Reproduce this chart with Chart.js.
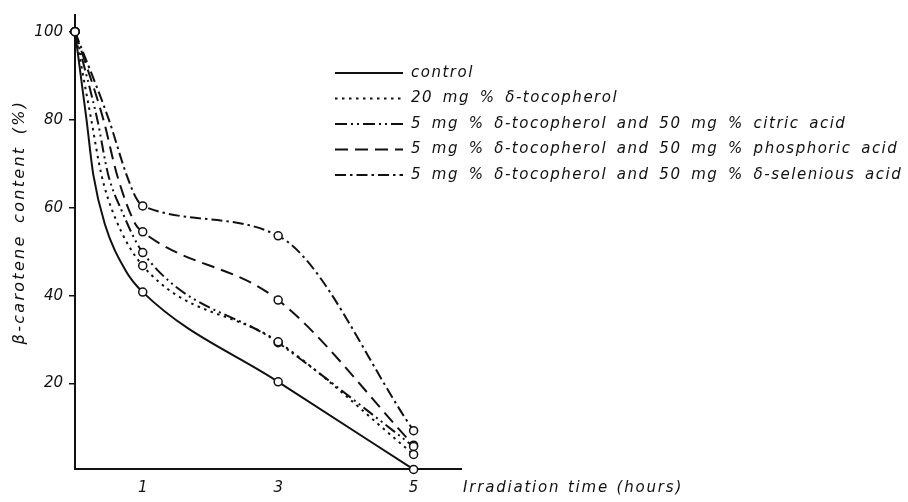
<!DOCTYPE html>
<html>
<head>
<meta charset="utf-8">
<script src="https://cdn.jsdelivr.net/npm/chart.js@4.4.1/dist/chart.umd.min.js"></script>
<style>
  html, body { margin: 0; padding: 0; background: #fff; }
  #wrap { width: 908px; height: 502px; }
</style>
</head>
<body>
<div id="wrap"><canvas id="chart"></canvas></div>
<script>
// irradiation times (hours) where the samples were measured
const hours = [0, 1, 3, 5];

// β-carotene content (%) at those times
const control = [100, 40.8, 20.4, 0.5];
const toco20 = [100, 46.8, 29.5, 3.9];
const tocoCitric = [100, 49.8, 29.3, 5.7];
const tocoPhosphoric = [100, 54.5, 39.0, 6.0];
const tocoSelenious = [100, 60.4, 53.6, 9.3];

// points read off the drawn curves between 0 and 1 h (no circle drawn there)
const controlCurve = [[0.17, 80], [0.27, 67.5], [0.44, 56.3], [0.74, 45.9]];
const toco20Curve = [[0.24, 80], [0.39, 67.5], [0.59, 57.8]];
const citricCurve = [[0.33, 80], [0.49, 67.5], [0.69, 59.3]];
const phosphoricCurve = [[0.42, 80], [0.62, 67.5], [0.89, 56.3]];
const seleniousCurve = [[0.5, 80], [0.76, 67.5], [0.91, 62]];

const seriesLabels = [
  'control',
  '20 mg % δ-tocopherol',
  '5 mg % δ-tocopherol and 50 mg % citric acid',
  '5 mg % δ-tocopherol and 50 mg % phosphoric acid',
  '5 mg % δ-tocopherol and 50 mg % δ-selenious acid'
];
const xTicks = [1, 3, 5];
const yTicks = [20, 40, 60, 80, 100];
const xTitle = 'Irradiation time (hours)';
const yTitle = 'β-carotene content (%)';

const ink = '#111';
const font = { family: '"DejaVu Sans", sans-serif', size: 15, style: 'italic' };

function series(values, curve) {
  const pts = hours.map((h, i) => ({ x: h, y: values[i], mark: true }));
  curve.forEach(([x, y]) => pts.push({ x: x, y: y, mark: false }));
  return pts.sort((a, b) => a.x - b.x);
}

function dataset(i, values, curve, dash) {
  return {
    label: seriesLabels[i],
    data: series(values, curve),
    borderColor: ink,
    borderWidth: 2,
    borderDash: dash,
    cubicInterpolationMode: 'monotone',
    pointRadius: c => (c.raw && c.raw.mark ? 4 : 0),
    pointBackgroundColor: '#fff',
    pointBorderColor: ink,
    pointBorderWidth: 1.5,
    clip: false
  };
}

// legend + axis titles, drawn like the figure (legend inside the plot, x title right of the axis)
const annotate = {
  id: 'annotate',
  afterDraw(chart) {
    const ctx = chart.ctx;
    ctx.save();
    ctx.fillStyle = ink;
    ctx.strokeStyle = ink;
    ctx.font = 'italic 15px "DejaVu Sans"';
    ctx.letterSpacing = '1.5px';
    ctx.wordSpacing = '3.5px';
    ctx.textBaseline = 'middle';
    chart.data.datasets.forEach((ds, i) => {
      const y = 73 + i * 25.5;
      ctx.setLineDash(ds.borderDash);
      ctx.lineWidth = 2;
      ctx.beginPath();
      ctx.moveTo(335, y);
      ctx.lineTo(403, y);
      ctx.stroke();
      ctx.setLineDash([]);
      ctx.fillText(ds.label, 411, y);
    });
    ctx.letterSpacing = '1.8px';
    ctx.wordSpacing = '1px';
    ctx.fillText(xTitle, chart.chartArea.right + 2, 488);
    ctx.font = 'italic 16px "DejaVu Sans"';
    ctx.letterSpacing = '2.3px';
    ctx.wordSpacing = '4px';
    ctx.translate(20, 222);
    ctx.rotate(-Math.PI / 2);
    ctx.textAlign = 'center';
    ctx.fillText(yTitle, 0, 0);
    ctx.restore();
  }
};

const ctx = document.getElementById('chart').getContext('2d');
const chart = new Chart(ctx, {
  type: 'line',
  data: {
    datasets: [
      dataset(0, control, controlCurve, []),
      dataset(1, toco20, toco20Curve, [2.5, 4.5]),
      dataset(2, tocoCitric, citricCurve, [12, 4, 2, 4, 2, 4]),
      dataset(3, tocoPhosphoric, phosphoricCurve, [13, 7]),
      dataset(4, tocoSelenious, seleniousCurve, [11, 4, 2.5, 4])
    ]
  },
  options: {
    responsive: true,
    maintainAspectRatio: false,
    animation: false,
    layout: { padding: { left: 0, top: 8, right: 447, bottom: 0 } },
    plugins: {
      legend: { display: false },
      tooltip: { enabled: false }
    },
    scales: {
      x: {
        type: 'linear',
        min: 0,
        max: 5.7,
        afterBuildTicks: s => { s.ticks = xTicks.map(v => ({ value: v })); },
        afterFit: s => { s.height = 33.5; },
        grid: { display: false, drawTicks: false },
        border: { display: true, color: ink, width: 2 },
        ticks: { color: ink, font: font, padding: 11, maxRotation: 0 }
      },
      y: {
        min: 0.7,
        max: 103.8,
        afterBuildTicks: s => { s.ticks = yTicks.map(v => ({ value: v })); },
        afterFit: s => { s.width = 75; },
        grid: { drawOnChartArea: false, drawTicks: true, tickLength: 6, color: ink, lineWidth: 1.5 },
        border: { display: true, color: ink, width: 2 },
        ticks: { color: ink, font: font, padding: 6 }
      }
    }
  },
  plugins: [annotate]
});
</script>
</body>
</html>
